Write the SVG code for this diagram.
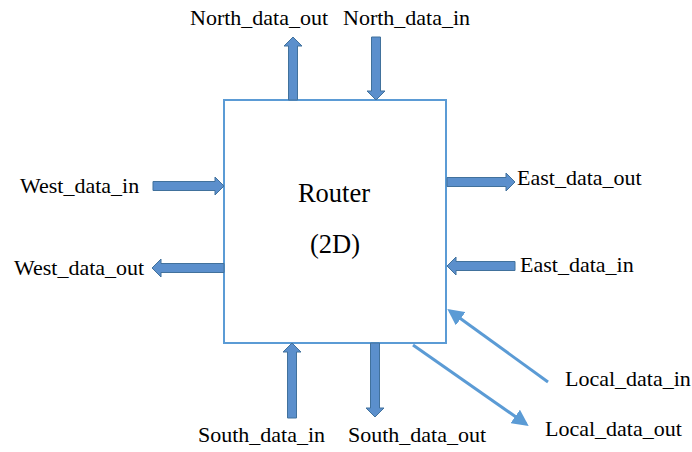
<svg xmlns="http://www.w3.org/2000/svg" width="692" height="452" viewBox="0 0 692 452">
<defs>
<style>
.t{font-size:22px;fill:#000}
.c{font-size:26.5px;fill:#000;text-anchor:middle}
.blk{fill:#5b8fcc;stroke:#41719c;stroke-width:1}
.ln{stroke:#5b9bd5;stroke-width:3;fill:none}
</style>
<marker id="ah" viewBox="0 0 10 10" refX="8" refY="5" markerWidth="5.5" markerHeight="5.5" orient="auto" markerUnits="strokeWidth">
<path d="M0,0 L10,5 L0,10 z" fill="#5b9bd5"/>
</marker>
</defs>
<rect width="692" height="452" fill="#fff"/>
<g id="router" font-family="'Liberation Serif', 'Times New Roman', serif">
<rect x="224" y="100" width="222" height="243" fill="#fff" stroke="#5b9bd5" stroke-width="2"/>
<text class="c" x="334" y="202">Router</text>
<text class="c" x="335" y="253">(2D)</text>
</g>
<g id="connectors">
<path class="blk" d="M288.5,100 V46 H284 L293,37 L302,46 H297.5 V100 Z"/>
<path class="blk" d="M371.5,37 V91 H367 L376,100 L385,91 H380.5 V37 Z"/>
<path class="blk" d="M153,181.5 H215 V177 L224,186 L215,195 V190.5 H153 Z"/>
<path class="blk" d="M224,263.5 H161 V259 L152,268 L161,277 V272.5 H224 Z"/>
<path class="blk" d="M447,177.5 H506 V173 L515,182 L506,191 V186.5 H447 Z"/>
<path class="blk" d="M515,261.5 H456 V257 L447,266 L456,275 V270.5 H515 Z"/>
<path class="blk" d="M287.5,418 V352 H283 L292,343 L301,352 H296.5 V418 Z"/>
<path class="blk" d="M370.5,343 V408 H366 L375,417 L384,408 H379.5 V343 Z"/>
<line class="ln" x1="548" y1="382" x2="450" y2="311" marker-end="url(#ah)"/>
<line class="ln" x1="413" y1="345" x2="526" y2="424" marker-end="url(#ah)"/>
</g>
<g id="labels" font-family="'Liberation Serif', 'Times New Roman', serif">
<text class="t" x="190" y="25">North_data_out</text>
<text class="t" x="343" y="25">North_data_in</text>
<text class="t" x="20" y="193">West_data_in</text>
<text class="t" x="14" y="275">West_data_out</text>
<text class="t" x="517" y="185">East_data_out</text>
<text class="t" x="520" y="272">East_data_in</text>
<text class="t" x="198" y="442">South_data_in</text>
<text class="t" x="348" y="442">South_data_out</text>
<text class="t" x="565" y="386">Local_data_in</text>
<text class="t" x="545" y="436">Local_data_out</text>
</g>
</svg>
